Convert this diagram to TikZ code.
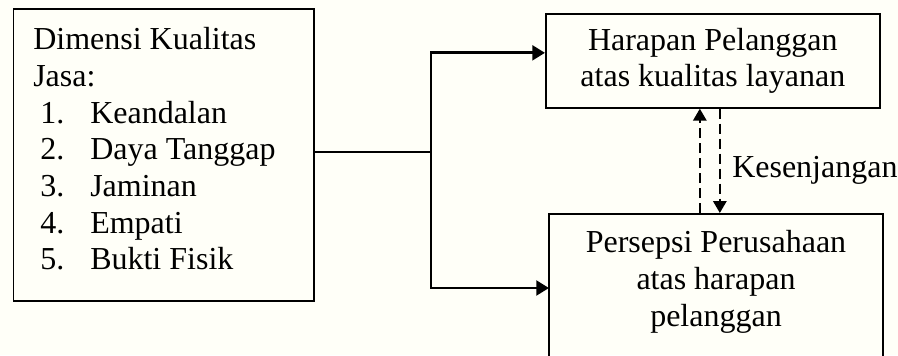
\documentclass[tikz,border=0pt]{standalone}
\usepackage{fontspec}
\setmainfont{Liberation Serif}
\usetikzlibrary{arrows.meta}

\definecolor{kertas}{RGB}{255,255,248}

\newcommand{\butir}[2]{\hspace*{5.25pt}\makebox[37.5pt][l]{#1}#2}

\begin{document}
\begin{tikzpicture}
	[x=0.75pt, y=-0.75pt,
	font=\fontsize{24pt}{27.5pt}\selectfont,
	kotak/.style={draw, black, line width=1.25pt, inner sep=0pt, minimum width=250.5pt},
	teks/.style={inner sep=0pt, align=center},
	garis/.style={black, line width=2.2pt},
	panah/.style={-{Triangle[length=9.5pt, width=11pt]}, black, line width=2.2pt},
	celah/.style={-{Triangle[length=9pt, width=10pt]}, black, line width=1.6pt, dash pattern=on 7.5pt off 3.75pt}]

	% Draw background
	\fill[kertas] (0,0) rectangle (898,355);
	\useasboundingbox (0,0) rectangle (898,355);

	% Create boxes
	\node[kotak, anchor=north west, minimum width=225.4pt, minimum height=219pt] (dimensi) at (12.5,8) {};
	\node[teks, anchor=north west, align=left] (dimensiteks) at (33,27.4)
		{Dimensi Kualitas\\Jasa:\\\butir{1.}{Keandalan}\\\butir{2.}{Daya Tanggap}\\\butir{3.}{Jaminan}\\\butir{4.}{Empati}\\\butir{5.}{Bukti Fisik}};

	\node[kotak, anchor=north west, minimum height=70.5pt, align=center] (harapan) at (545,13)
		{Harapan Pelanggan\\atas kualitas layanan};

	\node[kotak, anchor=north, minimum height=114pt] (persepsi) at (716,213) {};
	\node[teks] (persepsiteks) at (716,282) {Persepsi Perusahaan\\atas harapan\\pelanggan};

	% Draw connectors
	\coordinate (cabang) at (431,152);
	\coordinate (masukbawah) at (549,288);

	\draw[garis] (dimensi.east |- cabang) -- (cabang);
	\draw[panah] (cabang) |- ([yshift=6pt]harapan.west);
	\draw[panah] (cabang) |- (masukbawah);

	% Draw gap arrows
	\draw[celah] ([xshift=-9.75pt]harapan.south |- persepsi.north) -- ([xshift=-9.75pt]harapan.south);
	\draw[celah] ([xshift=5.25pt]harapan.south) -- ([xshift=5.25pt]harapan.south |- persepsi.north);

	\node[teks, anchor=base west] (kesenjangan) at (732,177) {Kesenjangan};

\end{tikzpicture}
\end{document}
